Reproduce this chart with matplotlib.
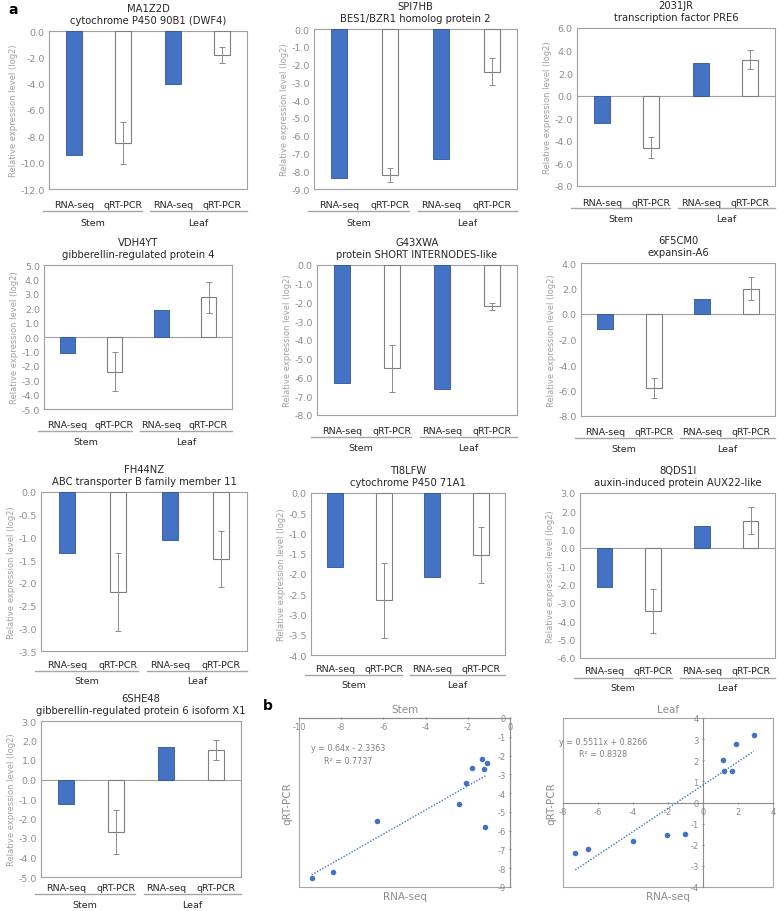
import numpy as np
import matplotlib
matplotlib.use("Agg")
import matplotlib.pyplot as plt
from matplotlib.patches import Rectangle
from matplotlib.lines import Line2D

plt.rcParams["axes.unicode_minus"] = False

# ------------------------------------------------------------------
# data
# ------------------------------------------------------------------
genes = ["MA1Z2D", "SPI7HB", "2031JR", "VDH4YT", "G43XWA",
         "6F5CM0", "FH44NZ", "TI8LFW", "8QDS1I", "6SHE48"]
names = ["cytochrome P450 90B1 (DWF4)", "BES1/BZR1 homolog protein 2",
         "transcription factor PRE6", "gibberellin-regulated protein 4",
         "protein SHORT INTERNODES-like", "expansin-A6",
         "ABC transporter B family member 11", "cytochrome P450 71A1",
         "auxin-induced protein AUX22-like",
         "gibberellin-regulated protein 6 isoform X1"]
stem_rna = [-9.4, -8.4, -2.4, -1.1, -6.3, -1.2, -1.35, -1.82, -2.1, -1.25]
stem_qpcr = [-8.5, -8.2, -4.6, -2.4, -5.5, -5.8, -2.2, -2.65, -3.45, -2.7]
stem_err = [1.6, 0.4, 0.9, 1.35, 1.25, 0.8, 0.85, 0.92, 1.2, 1.12]
leaf_rna = [-4.0, -7.3, 2.9, 1.9, -6.6, 1.15, -1.05, -2.07, 1.2, 1.65]
leaf_qpcr = [-1.8, -2.4, 3.2, 2.75, -2.2, 2.0, -1.48, -1.53, 1.5, 1.5]
leaf_err = [0.6, 0.75, 0.85, 1.1, 0.2, 0.9, 0.62, 0.68, 0.72, 0.52]
y_min = [-12, -9, -8, -5, -8, -8, -3.5, -4, -6, -5]
y_max = [0, 0, 6, 5, 0, 4, 0, 0, 3, 3]
y_step = [2, 1, 2, 1, 1, 2, 0.5, 0.5, 1, 1]

cat_labels = ["RNA-seq", "qRT-PCR", "RNA-seq", "qRT-PCR"]
tissues = ["Stem", "Leaf"]

# trendlines as printed on the figure
stem_fit = (0.64, -2.3363, 0.7737)
leaf_fit = (0.5511, 0.8266, 0.8328)

# ------------------------------------------------------------------
W, H = 778, 912
fig = plt.figure(figsize=(W / 100, H / 100), dpi=100)

def px_axes(l, t, r, b):
    return fig.add_axes([l / W, 1 - b / H, (r - l) / W, (b - t) / H])

# plot-area boxes in pixels (left, top, right, bottom)
bar_boxes = [(49, 32, 247, 190), (314, 30, 517, 190), (577, 29, 775, 187),
             (44, 266, 232, 410), (317, 266, 517, 416), (581, 264, 775, 417),
             (41, 493, 247, 652), (311, 494, 505, 656), (580, 494, 775, 659),
             (41, 722, 241, 878)]
# offsets (px below the box) of category label, group line, tissue label
label_offsets = [(16, 22, 33)] * 6 + [(13, 20, 30)] * 3 + [(11, 17, 28)]

BLUE = "#4472C4"
GRAY = "#8C8C8C"
TXT = "#262626"

for i, box in enumerate(bar_boxes):
    ax = px_axes(*box)
    vals = [stem_rna[i], stem_qpcr[i], leaf_rna[i], leaf_qpcr[i]]
    x = np.arange(4)
    ax.bar(x[[0, 2]], [vals[0], vals[2]], width=0.32, color=BLUE,
           edgecolor="#2F5597", linewidth=0.6, zorder=3)
    ax.bar(x[[1, 3]], [vals[1], vals[3]], width=0.32, color="white",
           edgecolor="#7F7F7F", linewidth=0.8, zorder=3,
           yerr=[stem_err[i], leaf_err[i]], capsize=2,
           error_kw=dict(ecolor="#8C8C8C", elinewidth=0.7, capthick=0.7))
    ax.set_xlim(-0.5, 3.5)
    ax.set_ylim(y_min[i], y_max[i])
    ticks = np.arange(y_min[i], y_max[i] + y_step[i] / 2, y_step[i])
    ax.set_yticks(ticks)
    ax.set_yticklabels([f"{t:.1f}" for t in ticks], fontsize=6.8, color=GRAY)
    ax.tick_params(axis="y", length=0, pad=3)
    ax.set_xticks([])
    for s in ax.spines.values():
        s.set_color("#A0A0A0")
        s.set_linewidth(0.8)
    if y_max[i] > 0:
        ax.axhline(0, color="#A0A0A0", lw=0.8, zorder=2)
    ax.set_ylabel("Relative expression level (log2)", fontsize=6,
                  color="#A0A0A0", labelpad=2)
    ax.set_title(f"{genes[i]}\n{names[i]}", fontsize=7.2, color=TXT,
                 linespacing=1.15, pad=6)

    # category labels and Stem / Leaf grouping underneath
    trans = ax.get_xaxis_transform()
    h = box[3] - box[1]
    o1, o2, o3 = label_offsets[i]
    for j, lab in enumerate(cat_labels):
        ax.text(j, -o1 / h, lab, transform=trans, ha="center", va="center",
                fontsize=6.8, color=TXT)
    for (x0, x1), tis in zip([(-0.62, 1.38), (1.55, 3.5)], tissues):
        ax.add_line(Line2D([x0, x1], [-o2 / h, -o2 / h], transform=trans,
                           color="#A6A6A6", lw=1, clip_on=False))
        ax.text((x0 + x1) / 2, -o3 / h, tis, transform=trans, ha="center",
                va="center", fontsize=6.8, color=TXT)

# ------------------------------------------------------------------
# scatter panels (b)
# ------------------------------------------------------------------
def scatter_panel(box, xs, ys, fit, xlim, ylim, xstep, title, eq_xy):
    ax = px_axes(*box)
    ax.scatter(xs, ys, s=16, color=BLUE, zorder=4, linewidths=0)
    slope, icpt, r2 = fit
    xx = np.array([min(xs), max(xs)])
    ax.plot(xx, slope * xx + icpt, ls=(0, (1, 1.2)), color=BLUE, lw=1,
            zorder=3)
    ax.set_xlim(*xlim)
    ax.set_ylim(*ylim)
    ax.set_xticks(np.arange(xlim[0], xlim[1] + 1, xstep))
    ax.set_yticks(np.arange(ylim[0], ylim[1] + 1, 1))
    for s in ["top", "right"]:
        ax.spines[s].set_visible(False)
    ax.spines["left"].set_position(("data", 0))
    ax.spines["bottom"].set_position(("data", 0))
    for s in ["left", "bottom"]:
        ax.spines[s].set_color("#8C8C8C")
        ax.spines[s].set_linewidth(0.8)
    ax.add_patch(Rectangle((0, 0), 1, 1, transform=ax.transAxes, fill=False,
                           edgecolor="#A6A6A6", lw=0.8, clip_on=False))
    ax.tick_params(labelsize=6, labelcolor=GRAY, color="#8C8C8C",
                   length=2, direction="inout", pad=2)
    ax.set_title(title, fontsize=7.5, color=GRAY, pad=4)
    ax.text(0.5, -0.025, "RNA-seq", transform=ax.transAxes, ha="center",
            va="top", fontsize=7.5, color=GRAY)
    ax.text(-0.03, 0.5, "qRT-PCR", transform=ax.transAxes, ha="right",
            va="center", rotation=90, fontsize=7.5, color=GRAY)
    sign = "-" if icpt < 0 else "+"
    ax.text(eq_xy[0], eq_xy[1],
            f"y = {slope:g}x {sign} {abs(icpt):g}\nR\u00b2 = {r2:g}",
            transform=ax.transAxes, ha="center", va="top", fontsize=5.8,
            color="#7F7F7F", linespacing=1.5)
    return ax

scatter_panel((299, 719, 510, 888), stem_rna, stem_qpcr, stem_fit,
              (-10, 0), (-9, 0), 2, "Stem", (0.235, 0.85))
scatter_panel((563, 719, 773, 888), leaf_rna, leaf_qpcr, leaf_fit,
              (-8, 4), (-4, 4), 2, "Leaf", (0.19, 0.89))

fig.text(8 / W, 1 - 10 / H, "a", fontsize=10, fontweight="bold", va="center")
fig.text(263 / W, 1 - 706 / H, "b", fontsize=10, fontweight="bold",
         va="center")

fig.savefig("out.png", dpi=100)
